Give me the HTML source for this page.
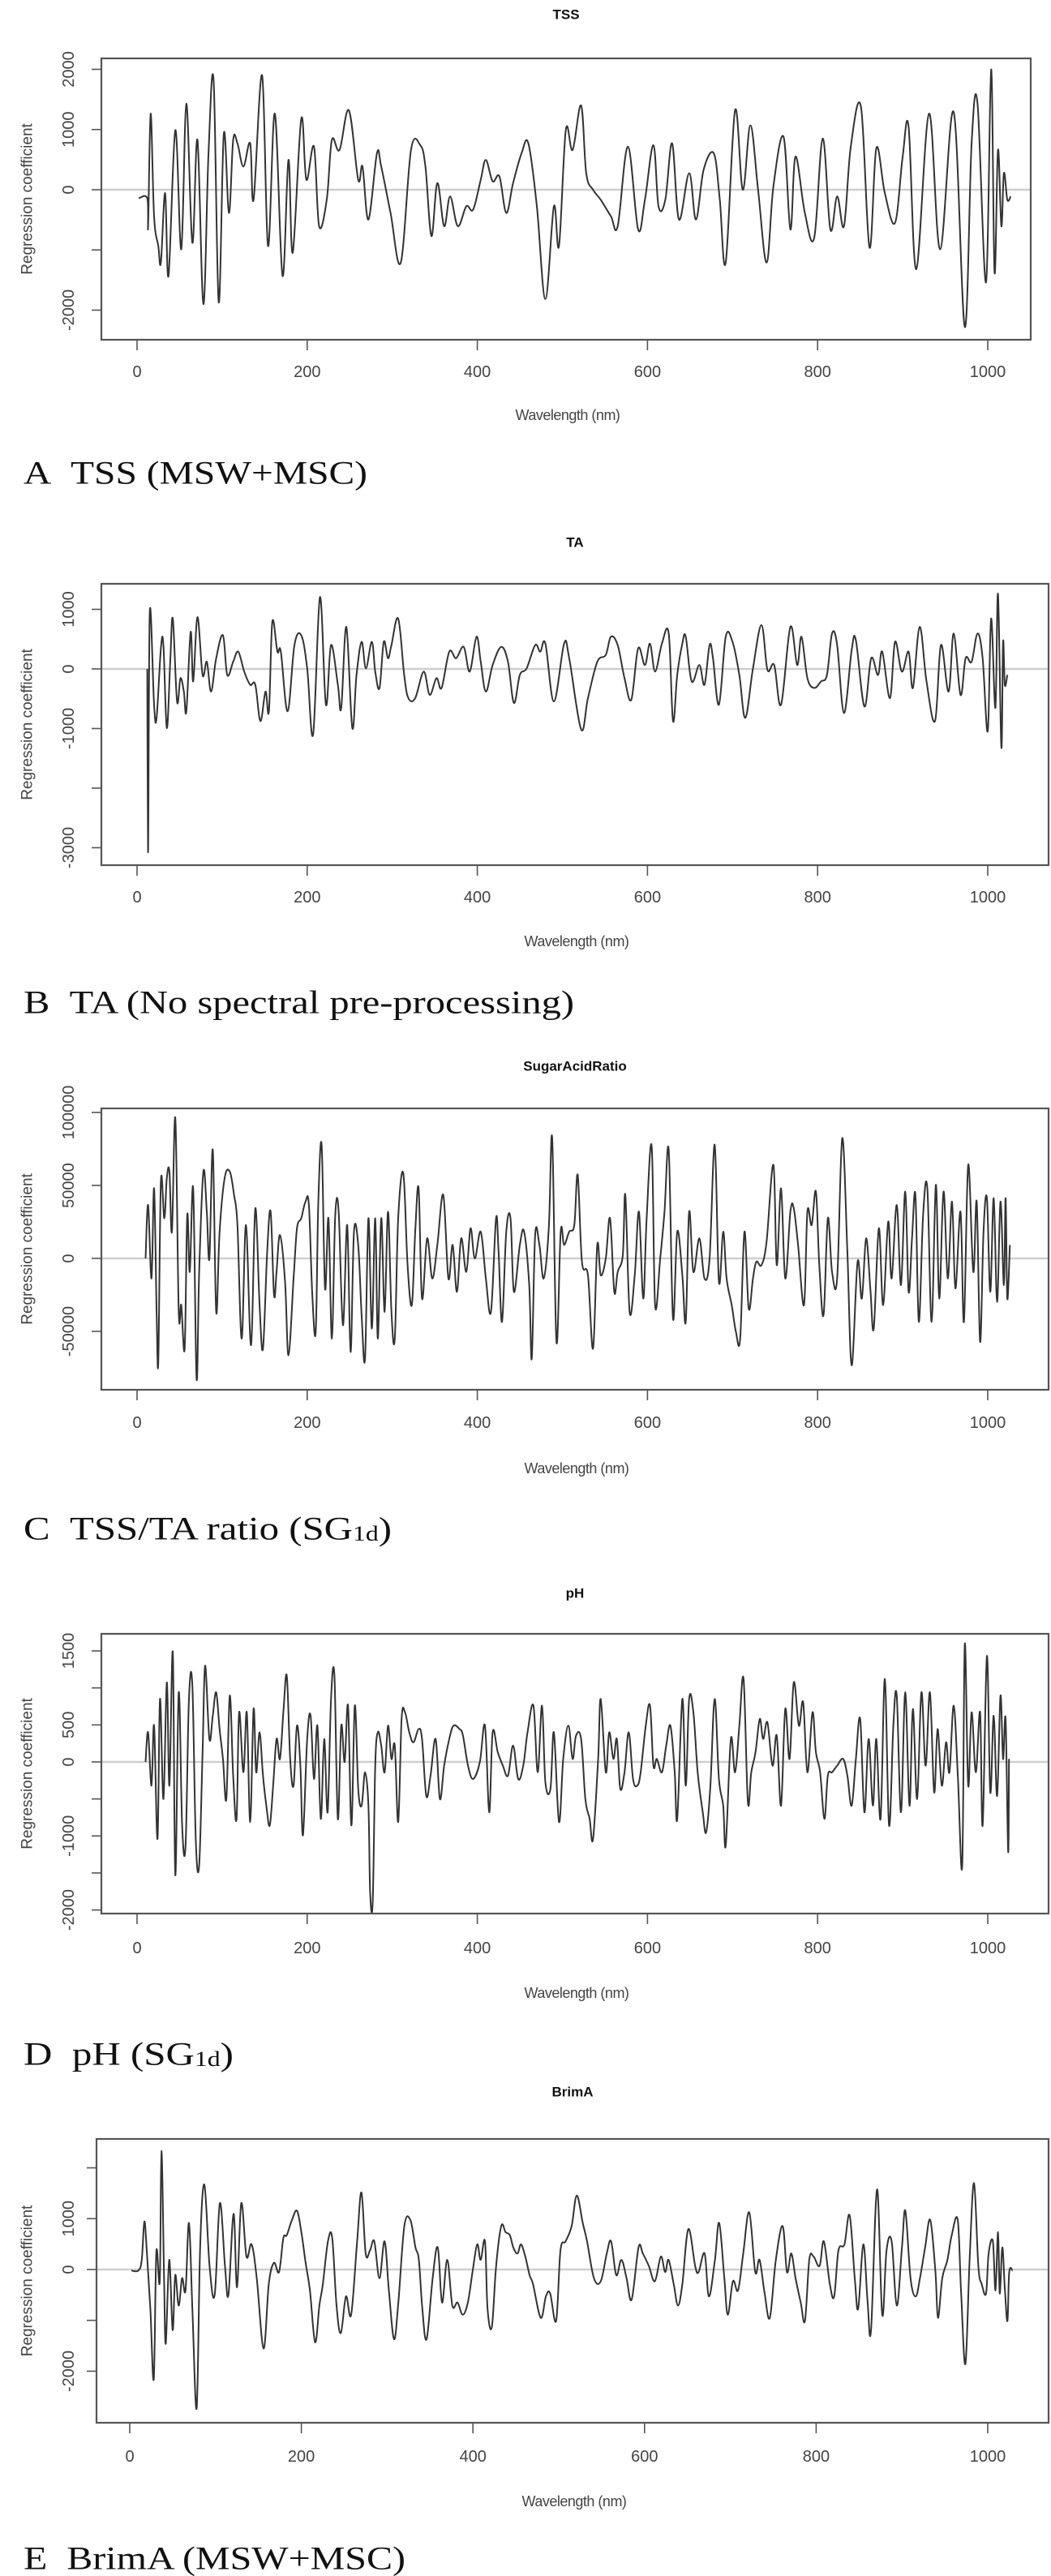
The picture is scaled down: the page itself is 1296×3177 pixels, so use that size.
<!DOCTYPE html>
<html><head><meta charset="utf-8"><title>Regression coefficients</title>
<style>
html,body{margin:0;padding:0;background:#fff;}
svg{display:block;}
</style></head>
<body>
<svg id="fig" xmlns="http://www.w3.org/2000/svg" width="1296" height="3177" viewBox="0 0 1296 3177"></svg>
<script>
// ---------- data (wavelength nm, regression coefficient) ----------
const xTicks = [0,200,400,600,800,1000];

const wlA = [2,12,13,16,20,25,28,33,37,45,52,58,65,71,78,84,90,96,102,108,113,118,125,133,137,147,154,162,171,178,183,193,199,208,214,223,229,238,249,260,265,272,282,287,298,310,322,333,339,346,353,361,368,377,387,395,404,410,418,426,434,442,452,460,470,480,490,496,504,512,522,528,536,545,557,565,577,589,597,607,613,621,629,637,649,657,666,678,685,692,703,712,721,730,740,748,760,768,774,785,796,806,815,823,831,839,851,861,869,879,891,900,907,916,931,944,960,973,981,988,998,1004,1008,1012,1016,1019,1023,1027];
const valA = [-140,-140,-605,1265,-440,-935,-1210,-55,-1430,990,-990,1430,-880,825,-1900,605,1815,-1870,935,-385,825,770,385,770,-165,1900,-935,1265,-1430,495,-1045,1180,165,715,-605,-165,825,660,1320,165,385,-495,605,385,-385,-1210,660,740,385,-770,110,-605,-110,-605,-275,-330,165,495,140,220,-385,110,605,770,-275,-1815,-275,-935,990,660,1400,275,0,-165,-440,-605,715,-660,-165,740,-275,-165,770,-495,275,-495,330,605,-165,-1210,1320,0,1070,0,-1210,55,880,-660,550,-385,-800,850,-660,-110,-605,715,1375,-960,690,-55,-550,550,1045,-1320,1265,-990,1290,-2280,770,1430,-1540,2000,-1375,660,-605,275,-165,-110];
const yTicksA = [-2000,-1000,0,1000,2000];
const yLabelsA = ["-2000","","0","1000","2000"];

const wlB = [12,13,15,20,23,28,31,35,39,42,47,51,55,58,63,66,71,77,82,87,93,101,106,113,119,126,133,139,145,151,155,159,165,169,177,185,193,200,207,215,222,228,236,240,246,253,258,264,269,276,280,285,290,295,299,307,314,319,327,337,344,352,358,367,375,384,391,399,404,410,418,428,436,443,450,458,468,474,480,490,502,508,522,530,541,551,557,565,573,581,589,597,603,609,617,625,630,635,641,645,652,661,667,673,677,684,692,700,708,715,724,734,741,749,757,768,776,781,788,796,804,811,817,823,831,840,845,855,863,871,876,885,891,899,907,912,920,928,938,945,954,960,968,974,981,988,994,1000,1004,1009,1012,1016,1018,1020,1023];
const valB = [0,-3070,955,-600,-820,345,400,-990,120,845,-545,-155,-380,-710,620,-210,870,-100,120,-380,180,565,-100,120,290,-45,-265,-265,-875,-380,-710,790,290,290,-710,400,565,10,-1100,1205,-600,400,-265,-655,705,-990,-100,455,10,455,-45,-320,455,180,400,845,-100,-490,-490,-45,-435,-155,-320,290,180,370,-45,540,120,-380,65,370,120,-570,-100,10,400,290,425,-545,425,180,-1015,-490,120,235,540,400,-155,-515,345,65,425,-45,425,595,-875,-100,425,540,-210,65,-265,400,180,-600,540,455,-100,-820,10,735,-15,65,-600,705,65,540,-155,-320,-210,-100,595,400,-740,315,480,-630,180,-100,290,-490,455,-45,290,-320,705,-210,-875,400,-380,595,-435,180,120,595,180,-1045,845,-655,1260,-1320,455,-265,-100];
const yTicksB = [-3000,-2000,-1000,0,1000];
const yLabelsB = ["-3000","","-1000","0","1000"];

const wlC = [10,13,17,20,23,25,28,32,35,38,41,45,49,52,56,59,62,66,70,73,78,82,85,89,93,97,103,109,114,118,123,128,134,139,144,148,153,157,161,164,168,174,178,184,188,193,198,202,206,210,213,217,221,225,229,233,237,242,247,251,255,260,264,268,272,276,280,283,287,291,295,299,303,307,313,318,323,327,331,335,341,347,353,360,366,371,376,381,387,392,397,404,410,416,422,425,429,434,439,443,450,455,461,464,468,473,478,484,488,493,498,502,508,514,518,523,530,536,541,545,551,556,561,565,571,574,579,585,590,595,599,605,609,615,620,625,630,635,641,645,649,654,661,667,673,679,684,689,693,699,704,709,714,719,724,728,734,740,748,752,757,762,768,772,777,784,788,793,798,802,807,812,817,823,829,835,840,847,852,857,862,866,872,877,883,887,893,898,903,907,911,915,919,924,929,934,939,943,948,953,958,962,968,972,977,983,987,991,995,999,1003,1007,1011,1015,1019,1021,1023,1026];
const valC = [0,36600,-13700,48000,-36600,-71000,52700,27500,55000,59500,18300,96000,-36600,-32000,-61800,29800,-9200,48000,-82400,-9200,59500,32000,0,74400,-36600,18300,55000,59500,43500,22900,-55000,22900,-59500,34300,-32000,-61800,4600,32000,-25000,-9200,16000,-16000,-66400,-13700,20600,27500,38900,36600,-25000,-50400,36600,77900,-20600,27500,-55000,29800,32000,-45800,22900,-64100,18300,9200,-38900,-68700,27500,-48100,27500,-55000,27500,-36600,32000,-36600,-55000,27500,58400,-4600,-32000,18300,48000,-27500,13700,-13700,9200,43500,-13700,9200,-22900,13700,-9200,20600,0,18300,-13700,-36600,27500,4600,-43500,18300,27500,-22900,9200,18300,-18300,-68700,16000,9200,-13700,20600,82400,-57200,18300,9200,18300,22900,57200,-2300,-11500,-61800,9200,-11500,0,27500,-22900,-9200,2300,43500,-36600,-11500,32000,-27500,27500,76700,-32000,0,32000,74400,-41200,18300,-11500,-43500,32000,-9200,13700,-13700,0,77900,-16000,18300,-13700,-32000,-50400,-55000,18300,-34300,-13700,-2300,-4600,11500,64100,-4600,48000,-13700,32000,34300,9200,-32000,32000,22900,45800,-4600,-38900,27500,-9200,-13700,82400,4600,-73200,-2300,-27500,13700,-20600,-48100,20600,-32000,25200,-13700,36600,-18300,45800,-22900,13700,43500,-43500,29800,48000,-43500,50400,-27500,45800,-13700,38900,-20600,32000,-43500,64100,-9200,38900,-57200,18300,41200,-22900,41200,-29800,38900,-18300,41200,-27500,9200];
const yTicksC = [-50000,0,50000,100000];
const yLabelsC = ["-50000","0","50000","100000"];

const wlD = [10,13,17,20,24,27,31,35,38,42,45,49,53,57,61,65,69,73,77,80,85,89,93,97,101,105,109,113,117,120,125,129,133,137,140,144,148,152,156,160,164,168,172,176,180,184,188,192,195,200,204,208,212,216,220,224,228,232,236,240,244,248,252,256,260,264,268,272,274,277,280,283,287,291,295,299,303,307,311,315,320,325,331,335,340,345,351,356,361,367,372,379,383,389,395,403,409,414,418,424,430,436,442,448,454,459,466,471,476,480,486,490,496,501,507,512,516,522,527,532,536,542,545,551,555,560,564,568,573,578,583,588,592,598,603,607,611,617,622,627,632,635,641,645,649,654,659,665,669,674,679,684,689,692,698,703,708,713,718,722,727,732,736,741,747,752,757,762,767,772,778,783,788,794,798,803,808,812,817,823,830,835,840,845,850,855,860,865,869,874,879,884,889,893,898,903,908,912,917,922,927,932,937,941,946,951,955,960,965,970,973,977,981,986,991,994,999,1003,1007,1011,1015,1018,1021,1024,1025];
const valD = [0,400,-320,490,-1040,850,-500,1075,-320,1480,-1530,940,-860,-1130,850,1030,-1040,-1400,130,1300,310,625,940,445,40,-500,895,-185,-770,670,-140,670,-810,715,-140,400,-185,-590,-860,-320,310,40,670,1165,40,-320,490,-50,-990,310,625,-230,490,-770,310,-680,850,1165,-770,490,0,760,-860,760,-360,-590,-140,-590,-1755,-1890,-50,400,220,-140,490,40,220,-810,580,670,400,265,445,310,-460,-185,310,-500,-50,310,490,445,360,-50,-230,0,490,-680,400,130,-50,-185,220,-230,-50,400,760,-140,760,-275,-360,400,-810,40,490,40,355,310,-500,-770,-1040,40,850,-140,400,40,310,-360,-140,400,-230,-320,-140,490,760,-50,40,-140,220,490,-140,-770,850,-320,850,670,-140,-680,-950,-320,850,-230,-590,-1130,310,-140,490,1120,-540,-140,130,580,310,535,-50,355,-590,715,40,1075,490,805,-140,670,130,-140,-770,-185,-140,-50,40,-185,-590,40,580,-680,310,-590,310,-770,1120,-860,490,895,-680,940,-590,715,-500,940,-50,940,-410,445,-320,265,-140,760,-230,-1400,1590,-320,670,-140,670,-860,1430,-410,625,-460,895,40,580,-1215,40];
const yTicksD = [-2000,-1500,-1000,-500,0,500,1000,1500];
const yLabelsD = ["-2000","","-1000","","0","500","","1500"];

const wlE = [2,10,14,17,20,24,28,31,35,37,40,42,46,50,53,57,61,65,69,73,78,82,87,93,99,105,111,115,121,125,130,136,142,148,156,162,168,174,179,183,189,195,200,205,210,216,221,225,231,236,241,246,252,258,265,270,275,280,285,291,297,302,308,313,320,327,333,337,341,346,353,359,364,370,376,382,388,394,400,405,409,414,417,422,427,433,438,443,447,452,456,461,466,470,479,485,490,497,502,508,515,521,528,533,541,549,556,561,567,573,579,585,593,598,605,612,619,624,628,634,639,644,651,659,663,670,675,682,687,693,697,703,709,715,722,729,734,740,746,753,761,766,771,776,782,787,792,797,804,809,816,821,826,833,839,845,849,855,860,864,871,877,882,888,894,900,904,910,916,921,927,933,939,942,947,953,958,965,969,974,979,984,989,993,998,1001,1006,1009,1012,1014,1017,1020,1023,1025,1029];
const valE = [-20,-20,190,945,315,-770,-2155,345,-230,2330,-170,-1460,190,-1190,-110,-710,-170,-410,915,-770,-2725,435,1670,70,-500,1305,70,-500,1095,-350,1305,255,495,-170,-1555,-290,130,-50,615,675,975,1155,735,130,-410,-1430,-710,-290,555,615,-710,-1250,-530,-890,555,1515,315,375,555,-170,555,-410,-1370,-650,855,975,435,190,-770,-1370,-170,435,-650,190,-710,-650,-890,-650,10,495,190,555,-770,-1130,70,855,735,675,435,315,495,255,-110,-290,-950,-530,-470,-1010,375,555,855,1455,915,555,-170,-230,315,555,-110,190,-170,-590,435,315,70,-230,255,-50,190,-290,-710,-290,795,70,-50,315,-530,190,915,-170,-890,-230,-410,315,1125,-50,190,-470,-950,190,855,-50,315,-170,-650,-1010,190,255,70,555,-290,-530,375,495,1065,-170,-770,495,-650,-1190,1575,-890,375,555,-710,435,1155,-170,-530,-170,435,975,-50,-950,-170,190,675,975,-470,-1855,255,1700,70,-290,-470,315,555,-410,735,-470,435,-410,-1010,-50,-20];
const yTicksE = [-2000,-1000,0,1000,2000];
const yLabelsE = ["-2000","","0","1000",""];

// ---------- layout ----------
const panels = [
  {id:'tss', title:'TSS', wl:wlA, val:valA, yt:yTicksA, yl:yLabelsA, L:125,R:1271,T:72,B:419, x0:169,x1:1218, y0:234, ys:74.25/1000, titleY:18, xtlY:459, xlY:512, capY:583, capW:424, cap:['A\u00a0\u00a0TSS (MSW+MSC)', '']},
  {id:'ta', title:'TA', wl:wlB, val:valB, yt:yTicksB, yl:yLabelsB, L:125,R:1293,T:720,B:1067, x0:169,x1:1218, y0:825, ys:73.5/1000, titleY:669, xtlY:1107, xlY:1161, capY:1236, capW:679, cap:['B\u00a0\u00a0TA (No spectral pre-processing)','']},
  {id:'sugar-acid-ratio', title:'SugarAcidRatio', wl:wlC, val:valC, yt:yTicksC, yl:yLabelsC, L:125,R:1293,T:1367,B:1714, x0:169,x1:1218, y0:1552, ys:90/50000, titleY:1315, xtlY:1755, xlY:1811, capY:1885, capW:454, cap:['C\u00a0\u00a0TSS/TA ratio (SG','1d',')']},
  {id:'ph', title:'pH', wl:wlD, val:valD, yt:yTicksD, yl:yLabelsD, L:125,R:1293,T:2015,B:2360, x0:169,x1:1218, y0:2173, ys:91.3/1000, titleY:1965, xtlY:2403, xlY:2458, capY:2533, capW:259, cap:['D\u00a0\u00a0pH (SG','1d',')']},
  {id:'brima', title:'BrimA', wl:wlE, val:valE, yt:yTicksE, yl:yLabelsE, L:119,R:1293,T:2638,B:2988, x0:160,x1:1218, y0:2799, ys:62.7/1000, titleY:2580, xtlY:3030, xlY:3085, capY:3155, capW:471, cap:['E\u00a0\u00a0BrimA (MSW+MSC)','']}
];

const NS = 'http://www.w3.org/2000/svg';
const svg = document.getElementById('fig');
function mk(tag, attrs, parent){
  const e = document.createElementNS(NS, tag);
  for (const k in attrs) e.setAttribute(k, attrs[k]);
  parent.appendChild(e);
  return e;
}
const SANS = '"Liberation Sans", "DejaVu Sans", sans-serif';
const SERIF = '"Liberation Serif", "DejaVu Serif", serif';

function smoothPath(P){
  let d = 'M' + P[0][0].toFixed(1) + ',' + P[0][1].toFixed(1);
  for (let i = 0; i < P.length - 1; i++) {
    const p0 = P[Math.max(0,i-1)], p1 = P[i], p2 = P[i+1], p3 = P[Math.min(P.length-1,i+2)];
    const t = 0.35;
    const c1x = p1[0] + (p2[0]-p0[0])*t/2, c1y = p1[1] + (p2[1]-p0[1])*t/2;
    const c2x = p2[0] - (p3[0]-p1[0])*t/2, c2y = p2[1] - (p3[1]-p1[1])*t/2;
    d += 'C' + c1x.toFixed(1)+','+c1y.toFixed(1)+' '+c2x.toFixed(1)+','+c2y.toFixed(1)+' '+p2[0].toFixed(1)+','+p2[1].toFixed(1);
  }
  return d;
}

panels.forEach(p => {
  const g = mk('g', {}, svg);
  
  
  const xs = v => p.x0 + v * (p.x1 - p.x0) / 1000;
  const ysf = v => p.y0 - v * p.ys;

  const t = mk('text', {x:(p.L+p.R)/2, y:p.titleY, 'text-anchor':'middle', 'dominant-baseline':'central', 'font-family':SANS, 'font-weight':'bold', 'font-size':17, fill:'#111'}, g);
  t.textContent = p.title;
  
  

  const z = mk('line', {x1:p.L, x2:p.R, y1:ysf(0), y2:ysf(0), stroke:'#cfcfcf', 'stroke-width':2.5}, g);
  
  

  const P = p.wl.map((w,i) => [xs(w), ysf(p.val[i])]);
  const line = mk('path', {d:smoothPath(P), fill:'none', stroke:'#333', 'stroke-width':2, 'stroke-linejoin':'round'}, g);
  
  

  const box = mk('rect', {x:p.L, y:p.T, width:p.R-p.L, height:p.B-p.T, fill:'none', stroke:'#555', 'stroke-width':2.2}, g);
  
  

  const xa = mk('g', {}, g);
  
  
  xTicks.forEach(v => {
    mk('line', {x1:xs(v), x2:xs(v), y1:p.B, y2:p.B+13, stroke:'#555', 'stroke-width':1.6}, xa);
    const tl = mk('text', {x:xs(v), y:p.xtlY, 'text-anchor':'middle', 'dominant-baseline':'central', 'font-family':SANS, 'font-size':20, fill:'#444'}, xa);
    tl.textContent = String(v);
    
    
  });
  const xl = mk('text', {x:(p.L+p.R)/2 + 2, y:p.xlY, 'text-anchor':'middle', 'dominant-baseline':'central', 'font-family':SANS, 'font-size':18, fill:'#444', 'letter-spacing':'-0.5'}, g);
  xl.textContent = 'Wavelength (nm)';
  
  

  const ya = mk('g', {}, g);
  
  
  p.yt.forEach((v,i) => {
    mk('line', {x1:p.L-12, x2:p.L, y1:ysf(v), y2:ysf(v), stroke:'#555', 'stroke-width':1.6}, ya);
    if (p.yl[i] !== '') {
      const tl = mk('text', {x:0, y:0, transform:'translate(85,' + ysf(v) + ') rotate(-90)', 'text-anchor':'middle', 'dominant-baseline':'central', 'font-family':SANS, 'font-size':20, fill:'#444'}, ya);
      tl.textContent = p.yl[i];
      
      
    }
  });
  const yl = mk('text', {x:0, y:0, transform:'translate(34,' + (p.T+p.B)/2 + ') rotate(-90)', 'text-anchor':'middle', 'dominant-baseline':'central', 'font-family':SANS, 'font-size':19, fill:'#444'}, g);
  yl.textContent = 'Regression coefficient';
  
  

  const c = mk('text', {x:29, y:p.capY, 'dominant-baseline':'central', 'font-family':SERIF, 'font-size':40, fill:'#111', textLength:p.capW, lengthAdjust:'spacingAndGlyphs'}, g);
  
  
  c.appendChild(document.createTextNode(p.cap[0]));
  if (p.cap[1]) {
    const s = mk('tspan', {'font-size':26, dy:6}, c);
    s.textContent = p.cap[1];
    const e = mk('tspan', {dy:-6}, c);
    e.textContent = p.cap[2];
  }
});
</script>
</body></html>
